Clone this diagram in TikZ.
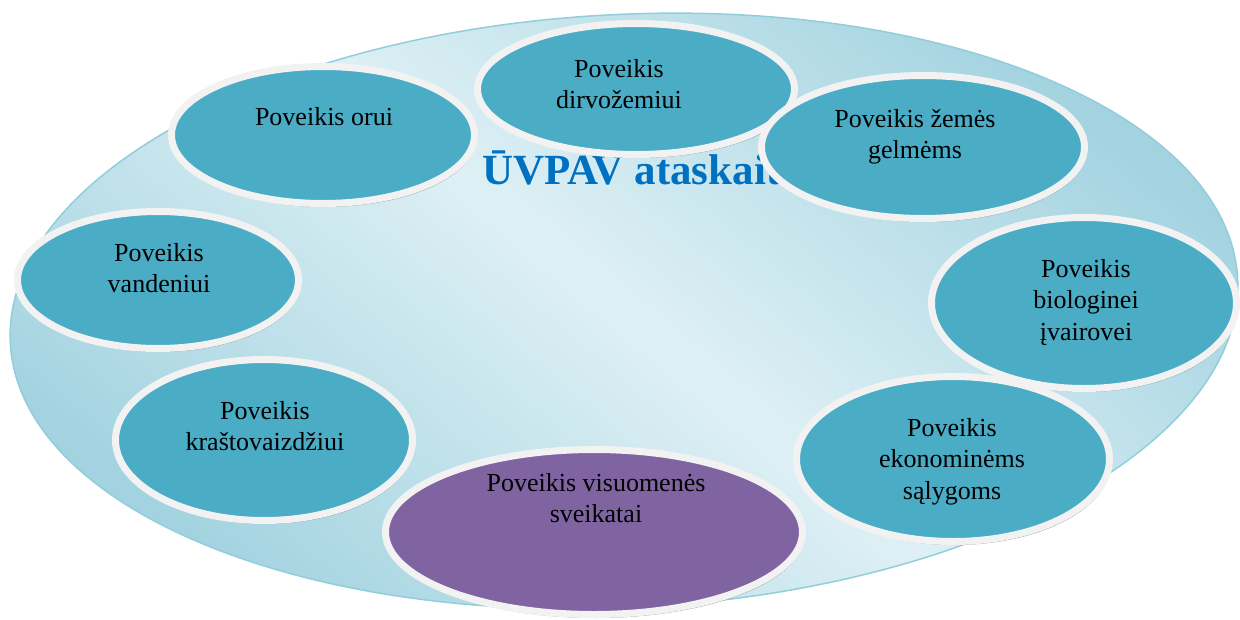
\documentclass[tikz,border=0pt]{standalone}
\usepackage{fontspec}
\setmainfont{Liberation Serif}
\usetikzlibrary{shapes.geometric,shadows}
\definecolor{cTeal}{HTML}{4BACC6}
\definecolor{cPurple}{HTML}{8064A2}
\definecolor{cBorder}{HTML}{F2F2F2}
\definecolor{cShadow}{HTML}{6F8E98}
\definecolor{cEdge}{HTML}{92CDDC}
\definecolor{cLight}{HTML}{DEF0F5}
\definecolor{cDark}{HTML}{A3D3E0}
\definecolor{cTitle}{HTML}{0070C0}
\begin{document}
\begin{tikzpicture}[x=1pt,y=-1pt,
  bubble/.style={ellipse, draw=cBorder, line width=7pt, fill=cTeal, inner sep=0pt,
    drop shadow={shadow xshift=1.5pt, shadow yshift=-3.5pt, fill=cShadow, opacity=0.85}},
  lbl/.style={font=\fontsize{26}{31.5}\selectfont, align=center, inner sep=0pt, anchor=north, text=black},
  title/.style={font=\fontsize{43}{50}\selectfont\bfseries, text=cTitle, inner sep=0pt, anchor=base west}]
\useasboundingbox (0,0) rectangle (1240,619);
\node (base) [ellipse, draw=cEdge, line width=1.5pt, inner sep=0pt,
  minimum width=1229pt, minimum height=593pt, rotate=3,
  shading=axis, top color=cDark, bottom color=cDark, middle color=cLight, shading angle=-40] at (624,311) {};
\node (title) [title] at (482,184) {ŪVPAV ataskaita};
\node (b1) [bubble, minimum width=303pt, minimum height=137pt] at (323,135) {};
\node (b2) [bubble, minimum width=317pt, minimum height=131pt] at (636,89) {};
\node (b3) [bubble, minimum width=323pt, minimum height=143pt] at (923,147) {};
\node (b4) [bubble, minimum width=305pt, minimum height=171pt] at (1084,303) {};
\node (b8) [bubble, minimum width=281pt, minimum height=137pt] at (158,280) {};
\node (b7) [bubble, minimum width=297pt, minimum height=161pt] at (264,440) {};
\node (b5) [bubble, minimum width=313pt, minimum height=165pt] at (953,459) {};
\node (b6) [bubble, fill=cPurple, minimum width=417pt, minimum height=165pt] at (594,532) {};
\node (t1) [lbl] at (324,107) {Poveikis orui};
\node (t2) [lbl] at (619,59) {Poveikis\\dirvožemiui};
\node (t3) [lbl] at (915,109) {Poveikis žemės\\gelmėms};
\node (t4) [lbl] at (1086,259) {Poveikis\\biologinei\\įvairovei};
\node (t5) [lbl] at (952,418) {Poveikis\\ekonominėms\\sąlygoms};
\node (t6) [lbl] at (596,473) {Poveikis visuomenės\\sveikatai};
\node (t7) [lbl] at (265,401) {Poveikis\\kraštovaizdžiui};
\node (t8) [lbl] at (159,243) {Poveikis\\vandeniui};
\end{tikzpicture}
\end{document}
